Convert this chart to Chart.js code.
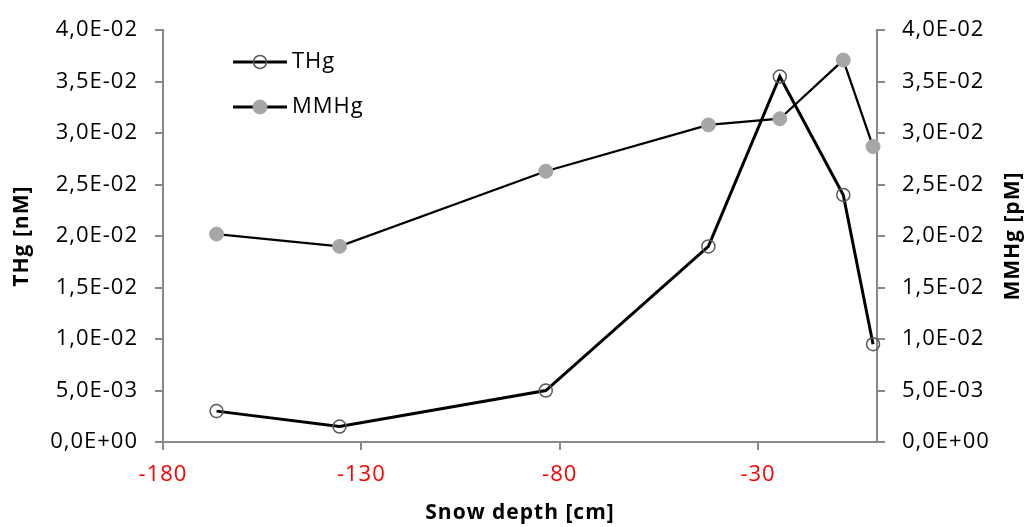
<!DOCTYPE html>
<html>
<head>
<meta charset="utf-8">
<script src="https://cdn.jsdelivr.net/npm/chart.js@4"></script>
<style>
html,body{margin:0;padding:0;background:#fff;}
canvas{display:block;}
</style>
</head>
<body>
<canvas id="c" width="1027" height="527"></canvas>
<script>
// ---- data ----
const depth = [-166.5, -135.5, -83.5, -42.5, -24.5, -8.5, -1];
const thg   = [0.0030, 0.0015, 0.0050, 0.0190, 0.0355, 0.0240, 0.0095];
const mmhg  = [0.0202, 0.0190, 0.0263, 0.0308, 0.0314, 0.0371, 0.0287];
const xTicks = [-180, -130, -80, -30];
const seriesNames = ['THg', 'MMHg'];
const axisTitles = { x: 'Snow depth [cm]', y: 'THg [nM]', y2: 'MMHg [pM]' };

const FONT = "'Open Sans', 'Liberation Sans', sans-serif";
const AXIS_COLOR = '#898989';
const SPACING = '1px';
const TICK_SIZE = 22;
const TITLE_SIZE = 21;

function sci(v) {
  if (Math.abs(v) < 1e-12) return '0,0E+00';
  const s = v.toExponential(1);
  const [m, e] = s.split('e');
  const en = parseInt(e, 10);
  const es = (en < 0 ? '-' : '+') + String(Math.abs(en)).padStart(2, '0');
  return m.replace('.', ',') + 'E' + es;
}

const thgData = depth.map((d, i) => ({ x: d, y: thg[i] }));
const mmData = depth.map((d, i) => ({ x: d, y: mmhg[i] }));

const spacingPlugin = {
  id: 'spacing',
  beforeDraw(chart) { chart.ctx.letterSpacing = SPACING; }
};

const legendPlugin = {
  id: 'customLegend',
  afterDatasetsDraw(chart) {
    const ctx = chart.ctx;
    ctx.save();
    ctx.letterSpacing = SPACING;
    const items = chart.data.datasets;
    items.forEach((ds, i) => {
      const y = 62 + i * 45;
      ctx.strokeStyle = '#000';
      ctx.lineWidth = 3;
      ctx.beginPath();
      ctx.moveTo(233, y);
      ctx.lineTo(287, y);
      ctx.stroke();
      ctx.beginPath();
      ctx.arc(260, y, ds.pointRadius, 0, Math.PI * 2);
      if (ds.pointBackgroundColor !== 'rgba(0,0,0,0)') {
        ctx.fillStyle = ds.pointBackgroundColor;
        ctx.fill();
      }
      ctx.lineWidth = ds.pointBorderWidth;
      ctx.strokeStyle = ds.pointBorderColor;
      ctx.stroke();
      ctx.fillStyle = '#000';
      ctx.font = TICK_SIZE + "px " + FONT;
      ctx.textBaseline = 'middle';
      ctx.textAlign = 'left';
      ctx.fillText(ds.label, 292, y);
    });
    // right axis title, rotated like the left one
    ctx.font = "bold " + TITLE_SIZE + "px " + FONT;
    ctx.fillStyle = '#000';
    ctx.textAlign = 'center';
    ctx.textBaseline = 'middle';
    ctx.translate(1013, (chart.chartArea.top + chart.chartArea.bottom) / 2);
    ctx.rotate(-Math.PI / 2);
    ctx.fillText(axisTitles.y2, 0, 0);
    ctx.restore();
  }
};

new Chart(document.getElementById('c'), {
  type: 'line',
  data: {
    datasets: [
      {
        label: seriesNames[0],
        data: thgData,
        yAxisID: 'y',
        borderColor: '#000',
        borderWidth: 3,
        pointRadius: 6.5,
        pointBorderWidth: 1.5,
        pointBorderColor: '#595959',
        pointBackgroundColor: 'rgba(0,0,0,0)',
        tension: 0,
        clip: false,
        order: 1
      },
      {
        label: seriesNames[1],
        data: mmData,
        yAxisID: 'y2',
        borderColor: '#000',
        borderWidth: 2.25,
        pointRadius: 7,
        pointBorderWidth: 1,
        pointBorderColor: '#A6A6A6',
        pointBackgroundColor: '#A6A6A6',
        tension: 0,
        clip: false,
        order: 2
      }
    ]
  },
  options: {
    responsive: false,
    animation: false,
    devicePixelRatio: 1,
    layout: { padding: { top: 24, left: 0, right: 0, bottom: 0 } },
    plugins: { legend: { display: false }, tooltip: { enabled: false } },
    scales: {
      x: {
        type: 'linear',
        min: -180,
        max: 0,
        afterBuildTicks(scale) { scale.ticks = xTicks.map(v => ({ value: v })); },
        afterFit(scale) { scale.height = 85; },
        grid: { display: true, drawOnChartArea: false, drawTicks: true, tickLength: 8, color: AXIS_COLOR, lineWidth: 2 },
        border: { display: true, color: AXIS_COLOR, width: 2 },
        ticks: { color: '#FF0000', font: { family: FONT, size: TICK_SIZE }, padding: 12, maxRotation: 0, autoSkip: false },
        title: { display: true, text: axisTitles.x, color: '#000', font: { family: FONT, size: TITLE_SIZE, weight: 'bold' }, padding: { top: 0, bottom: 1 } }
      },
      y: {
        position: 'left',
        min: 0,
        max: 0.04,
        afterFit(scale) { scale.width = 163; },
        grid: { display: true, drawOnChartArea: false, drawTicks: true, tickLength: 8, color: AXIS_COLOR, lineWidth: 2 },
        border: { display: true, color: AXIS_COLOR, width: 2 },
        ticks: { stepSize: 0.005, color: '#000', font: { family: FONT, size: TICK_SIZE }, padding: 17, callback: v => sci(v) },
        title: { display: true, text: axisTitles.y, color: '#000', font: { family: FONT, size: TITLE_SIZE, weight: 'bold' }, padding: { top: 9, bottom: 0 } }
      },
      y2: {
        position: 'right',
        min: 0,
        max: 0.04,
        afterFit(scale) { scale.width = 150; },
        grid: { display: true, drawOnChartArea: false, drawTicks: true, tickLength: 8, color: AXIS_COLOR, lineWidth: 2 },
        border: { display: true, color: AXIS_COLOR, width: 2 },
        ticks: { stepSize: 0.005, color: '#000', font: { family: FONT, size: TICK_SIZE }, padding: 17, callback: v => sci(v) },
        title: { display: false }
      }
    }
  },
  plugins: [spacingPlugin, legendPlugin]
});
</script>
</body>
</html>
